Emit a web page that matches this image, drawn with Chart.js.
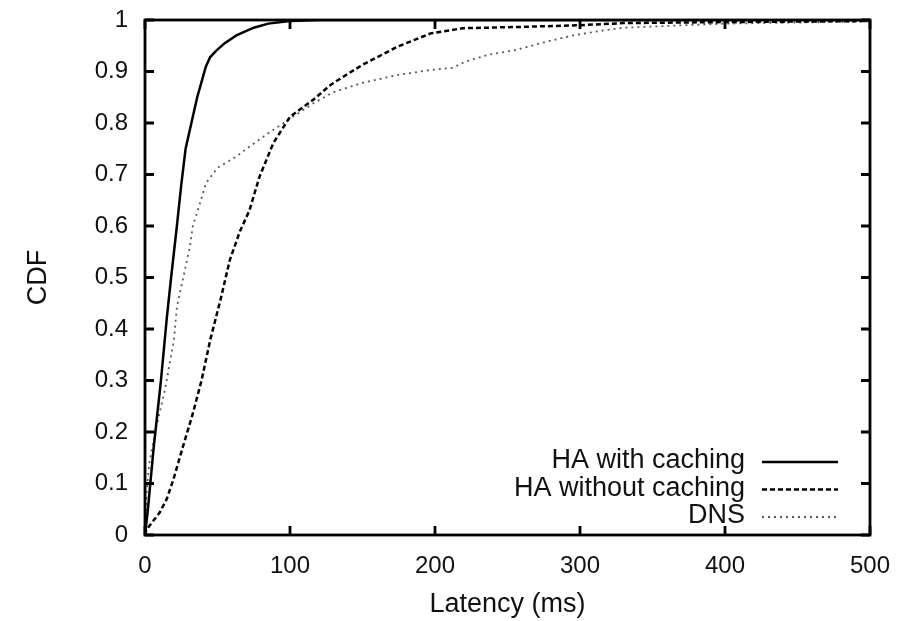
<!DOCTYPE html>
<html>
<head>
<meta charset="utf-8">
<script src="https://cdn.jsdelivr.net/npm/chart.js@4/dist/chart.umd.min.js"></script>
<style>
  html, body { margin: 0; padding: 0; background: #fff; }
  #wrap { width: 898px; height: 621px; position: relative; }
</style>
</head>
<body>
<div id="wrap"><canvas id="cdf"></canvas></div>
<script>
// CDF of lookup latency
const seriesLabels = ['HA with caching', 'HA without caching', 'DNS'];

const cachingX = [0, 2, 6, 11, 15, 18, 22, 25, 28, 32, 36, 39, 42, 45, 49, 55, 63, 75, 85, 100, 120, 200, 300, 400, 500];
const cachingY = [0, 0.05, 0.17, 0.30, 0.42, 0.50, 0.60, 0.68, 0.75, 0.80, 0.85, 0.88, 0.91, 0.928, 0.94, 0.955, 0.97, 0.985, 0.993, 0.998, 1, 1, 1, 1, 1];

const noCacheX = [0, 1, 5, 10, 15, 19.5, 26, 33, 39, 45, 52, 58.5, 65.5, 72, 79, 88.5, 100, 116, 128, 134, 150, 174, 197, 219, 265, 300, 330, 400, 500];
const noCacheY = [0, 0.01, 0.025, 0.043, 0.07, 0.107, 0.17, 0.236, 0.30, 0.379, 0.456, 0.534, 0.59, 0.63, 0.696, 0.761, 0.812, 0.845, 0.874, 0.885, 0.913, 0.948, 0.974, 0.984, 0.987, 0.99, 0.994, 0.996, 0.998];

const dnsX = [0, 1, 3, 7, 14, 17, 20, 22, 26, 31, 33, 38, 42, 50, 63, 72, 88, 102, 116, 130, 150, 174, 197, 212, 220, 236, 256, 277, 295, 312, 330, 400, 500];
const dnsY = [0, 0.08, 0.14, 0.2, 0.285, 0.333, 0.38, 0.443, 0.495, 0.56, 0.6, 0.645, 0.683, 0.713, 0.735, 0.754, 0.786, 0.812, 0.838, 0.86, 0.878, 0.893, 0.903, 0.907, 0.918, 0.932, 0.942, 0.958, 0.97, 0.978, 0.985, 0.993, 0.997];

const xTicks = [0, 100, 200, 300, 400, 500];
const yTicks = [0, 0.1, 0.2, 0.3, 0.4, 0.5, 0.6, 0.7, 0.8, 0.9, 1];

const FONT = "'Liberation Sans', Arial, sans-serif";
const TICK_SIZE = 24;
const TITLE_SIZE = 27;

function toPoints(xs, ys) {
    return xs.map((x, i) => ({ x: x, y: ys[i] }));
}

// box frame + inward ticks on all four sides (gnuplot style)
const framePlugin = {
    id: 'frame',
    afterDatasetsDraw(chart) {
        const ctx = chart.ctx;
        const a = chart.chartArea;
        const xs = chart.scales.x, ys = chart.scales.y;
        const len = 9;
        ctx.save();
        ctx.strokeStyle = '#000';
        ctx.lineWidth = 2.8;
        ctx.strokeRect(a.left, a.top, a.right - a.left, a.bottom - a.top);
        ctx.beginPath();
        xTicks.forEach(v => {
            const px = xs.getPixelForValue(v);
            ctx.moveTo(px, a.bottom); ctx.lineTo(px, a.bottom - len);
            ctx.moveTo(px, a.top); ctx.lineTo(px, a.top + len);
        });
        yTicks.forEach(v => {
            const py = ys.getPixelForValue(v);
            ctx.moveTo(a.left, py); ctx.lineTo(a.left + len, py);
            ctx.moveTo(a.right, py); ctx.lineTo(a.right - len, py);
        });
        ctx.stroke();
        ctx.restore();
    }
};

// key in lower right: text right-aligned, sample line after it
const keyPlugin = {
    id: 'key',
    afterDraw(chart) {
        const ctx = chart.ctx;
        const a = chart.chartArea;
        const textRight = a.right - 125;
        const lineL = a.right - 108, lineR = a.right - 32;
        let y = a.bottom - 74;
        ctx.save();
        ctx.font = TITLE_SIZE + 'px ' + FONT;
        ctx.textAlign = 'right';
        ctx.textBaseline = 'middle';
        chart.data.datasets.forEach(ds => {
            ctx.fillStyle = '#111';
            ctx.fillText(ds.label, textRight, y);
            ctx.strokeStyle = ds.borderColor;
            ctx.lineWidth = ds.borderWidth;
            ctx.setLineDash(ds.borderDash || []);
            ctx.beginPath();
            ctx.moveTo(lineL, y + 1);
            ctx.lineTo(lineR, y + 1);
            ctx.stroke();
            y += 27.5;
        });
        ctx.restore();
    }
};

// invisible tick marks just to push the labels out from the frame
const hiddenGrid = (len) => ({
    display: true,
    drawOnChartArea: false,
    drawTicks: true,
    tickLength: len,
    color: 'rgba(0,0,0,0)'
});

const ctx = document.getElementById('cdf').getContext('2d');
new Chart(ctx, {
    type: 'line',
    data: {
        datasets: [{
            label: seriesLabels[0],
            data: toPoints(cachingX, cachingY),
            borderColor: '#000',
            borderWidth: 2.5,
            borderDash: [],
            pointRadius: 0,
            tension: 0
        }, {
            label: seriesLabels[1],
            data: toPoints(noCacheX, noCacheY),
            borderColor: '#000',
            borderWidth: 2.5,
            borderDash: [5, 3],
            pointRadius: 0,
            tension: 0
        }, {
            label: seriesLabels[2],
            data: toPoints(dnsX, dnsY),
            borderColor: '#5a5a5a',
            borderWidth: 1.8,
            borderDash: [2, 4],
            pointRadius: 0,
            tension: 0
        }]
    },
    options: {
        responsive: true,
        maintainAspectRatio: false,
        animation: false,
        layout: { padding: { left: 0, right: 28, top: 20, bottom: 0 } },
        plugins: {
            legend: { display: false },
            tooltip: { enabled: false }
        },
        scales: {
            x: {
                type: 'linear',
                min: 0,
                max: 500,
                grid: hiddenGrid(17),
                border: { display: false },
                afterFit: s => { s.height = 86; },
                afterBuildTicks: s => { s.ticks = xTicks.map(v => ({ value: v })); },
                ticks: {
                    padding: 0,
                    color: '#111',
                    font: { family: FONT, size: TICK_SIZE },
                    maxRotation: 0
                },
                title: {
                    display: true,
                    text: 'Latency (ms)',
                    color: '#111',
                    font: { family: FONT, size: TITLE_SIZE },
                    padding: { top: 0, bottom: 0 }
                }
            },
            y: {
                type: 'linear',
                min: 0,
                max: 1,
                grid: hiddenGrid(17),
                border: { display: false },
                afterFit: s => { s.width = 145; },
                afterBuildTicks: s => { s.ticks = yTicks.map(v => ({ value: v })); },
                ticks: {
                    padding: 0,
                    color: '#111',
                    font: { family: FONT, size: TICK_SIZE },
                    callback: v => String(+v.toFixed(1))
                },
                title: {
                    display: true,
                    text: 'CDF',
                    color: '#111',
                    font: { family: FONT, size: TITLE_SIZE },
                    padding: { top: 22, bottom: 0 }
                }
            }
        }
    },
    plugins: [framePlugin, keyPlugin]
});
</script>
</body>
</html>
